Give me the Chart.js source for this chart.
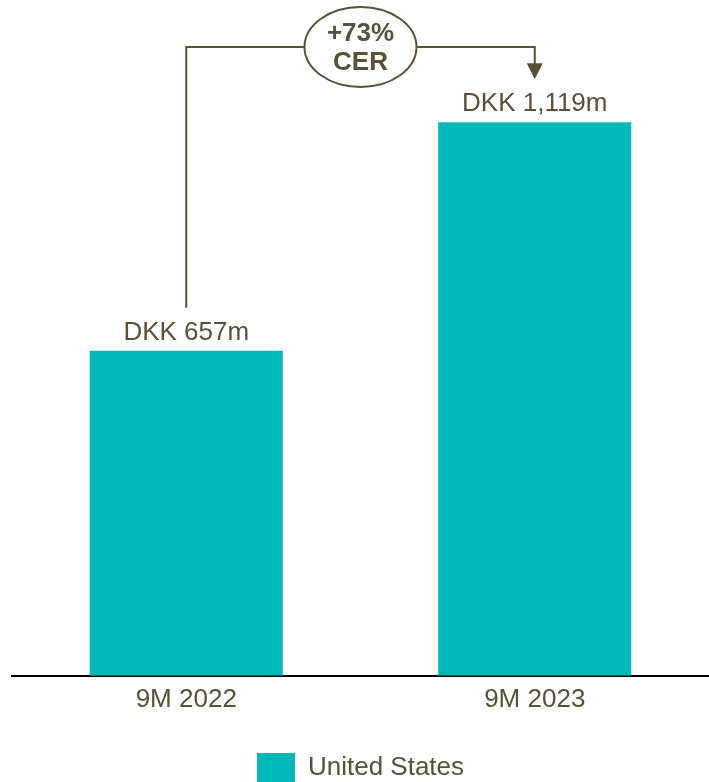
<!DOCTYPE html>
<html>
<head>
<meta charset="utf-8">
<script src="https://cdn.jsdelivr.net/npm/chart.js@4.4.0/dist/chart.umd.min.js"></script>
<style>
  html, body { margin: 0; padding: 0; background: #fff; }
  #wrap { width: 709px; height: 782px; position: relative; }
</style>
</head>
<body>
<div id="wrap"><canvas id="chart"></canvas></div>
<script>
// Chart data
const periods = ['9M 2022', '9M 2023'];
const salesUS = [657, 1119];
const valueLabels = ['DKK 657m', 'DKK 1,119m'];
const growthLines = ['+73%', 'CER'];

const TEXT = '#5a4f38';
const TEAL = '#00b8b8';
const FONT = '"Liberation Sans", Arial, sans-serif';

// Draws "DKK ..." labels above each bar
const valueLabelPlugin = {
    id: 'valueLabels',
    afterDatasetsDraw(chart) {
        const ctx = chart.ctx;
        const meta = chart.getDatasetMeta(0);
        ctx.save();
        ctx.fillStyle = TEXT;
        ctx.font = '26px ' + FONT;
        ctx.textAlign = 'center';
        ctx.textBaseline = 'alphabetic';
        meta.data.forEach((bar, i) => {
            ctx.fillText(valueLabels[i], bar.x, bar.y - 11);
        });
        ctx.restore();
    }
};

// Connector from first bar to second with the growth bubble
const growthArrowPlugin = {
    id: 'growthArrow',
    afterDraw(chart) {
        const ctx = chart.ctx;
        const meta = chart.getDatasetMeta(0);
        const b1 = meta.data[0];
        const b2 = meta.data[1];
        const lineY = 47;
        const startY = b1.y - 43;
        const tipY = b2.y - 43;
        const cx = (b1.x + b2.x) / 2;

        ctx.save();
        ctx.strokeStyle = TEXT;
        ctx.fillStyle = TEXT;
        ctx.lineWidth = 2;
        ctx.beginPath();
        ctx.moveTo(b1.x, startY);
        ctx.lineTo(b1.x, lineY);
        ctx.lineTo(b2.x, lineY);
        ctx.lineTo(b2.x, tipY - 14);
        ctx.stroke();

        // arrow head
        ctx.beginPath();
        ctx.moveTo(b2.x - 8, tipY - 16);
        ctx.lineTo(b2.x + 8, tipY - 16);
        ctx.lineTo(b2.x, tipY);
        ctx.closePath();
        ctx.fill();

        // bubble
        ctx.beginPath();
        ctx.ellipse(cx, lineY, 56, 40, 0, 0, Math.PI * 2);
        ctx.fillStyle = '#fff';
        ctx.fill();
        ctx.stroke();

        ctx.fillStyle = TEXT;
        ctx.font = 'bold 26px ' + FONT;
        ctx.textAlign = 'center';
        ctx.textBaseline = 'middle';
        ctx.fillText(growthLines[0], cx, lineY - 13);
        ctx.fillText(growthLines[1], cx, lineY + 16);
        ctx.restore();
    }
};

new Chart(document.getElementById('chart'), {
    type: 'bar',
    data: {
        labels: periods,
        datasets: [{
            label: 'United States',
            data: salesUS,
            backgroundColor: TEAL,
            borderWidth: 0,
            categoryPercentage: 1,
            barPercentage: 0.554
        }]
    },
    options: {
        responsive: true,
        maintainAspectRatio: false,
        animation: false,
        layout: {
            // legend square is clipped at the bottom edge in the original
            padding: { left: 12, right: 0, top: 0, bottom: -11 }
        },
        plugins: {
            tooltip: { enabled: false },
            legend: {
                position: 'bottom',
                labels: {
                    color: TEXT,
                    font: { family: FONT, size: 26 },
                    boxWidth: 38,
                    boxHeight: 30,
                    padding: 2
                }
            }
        },
        scales: {
            x: {
                grid: { display: false, drawTicks: false },
                border: { color: '#000', width: 2 },
                ticks: {
                    color: TEXT,
                    font: { family: FONT, size: 26 },
                    padding: 8
                },
                afterFit(scale) {
                    scale.height += 28;
                }
            },
            y: {
                display: false,
                min: 0,
                max: 1366
            }
        }
    },
    plugins: [valueLabelPlugin, growthArrowPlugin]
});
</script>
</body>
</html>
